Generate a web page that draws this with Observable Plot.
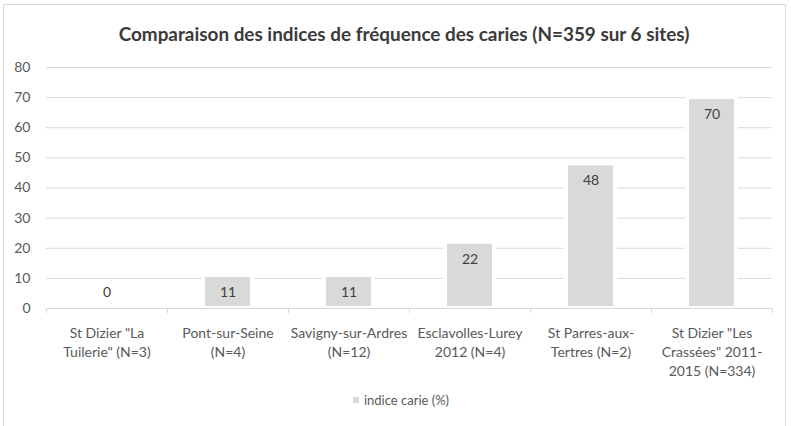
<!DOCTYPE html>
<html><head><meta charset="utf-8">
<script src="https://cdn.jsdelivr.net/npm/d3@7"></script>
<script src="https://cdn.jsdelivr.net/npm/@observablehq/plot@0.6"></script>
<style>
body{margin:0;background:#fff;font-family:Lato,"Open Sans",sans-serif;}
#wrap{position:relative;width:791px;height:426px;overflow:hidden;}
#frame{position:absolute;left:3px;top:4px;width:783px;height:440px;border:1px solid #d9d9d9;box-sizing:border-box;}
#title{position:absolute;left:0;top:22px;width:808px;text-align:center;font-weight:bold;font-size:18.9px;color:#3a3a3a;}
#legend{position:absolute;left:0;top:392px;width:802px;display:flex;justify-content:center;align-items:center;font-size:13px;color:#595959;}
#legend span.sw{display:inline-block;width:6px;height:6px;background:#d9d9d9;margin-right:5px;}
#chart{position:absolute;left:0;top:0;}
</style></head>
<body>
<div id="wrap">
<div id="frame"></div>
<div id="chart"></div>
<div id="title">Comparaison des indices de fréquence des caries (N=359 sur 6 sites)</div>
<div id="legend"><span class="sw"></span>indice carie (%)</div>
</div>
<script>
const categories = ['St Dizier "La Tuilerie" (N=3)', 'Pont-sur-Seine (N=4)', 'Savigny-sur-Ardres (N=12)', 'Esclavolles-Lurey 2012 (N=4)', 'St Parres-aux-Tertres (N=2)', 'St Dizier "Les Crassées" 2011-2015 (N=334)'];
const values = [0, 11, 11, 22, 48, 70];
const tickLabels = ['St Dizier "La\nTuilerie" (N=3)', 'Pont-sur-Seine\n(N=4)', 'Savigny-sur-Ardres\n(N=12)', 'Esclavolles-Lurey\n2012 (N=4)', 'St Parres-aux-\nTertres (N=2)', 'St Dizier "Les\nCrassées" 2011-\n2015 (N=334)'];
const yTicks = [0, 10, 20, 30, 40, 50, 60, 70, 80];

const data = categories.map((c, i) => ({cat: c, i, v: values[i], label: tickLabels[i]}));

const chart = Plot.plot({
  width: 791, height: 426,
  marginLeft: 46, marginRight: 19, marginTop: 67, marginBottom: 118,
  style: {fontFamily: 'Lato, "Open Sans", sans-serif', background: "transparent"},
  x: {domain: [0, categories.length], axis: null},
  y: {domain: [0, 80], axis: null},
  marks: [
    Plot.gridY(yTicks, {stroke: "#d9d9d9", strokeOpacity: 1, strokeWidth: 1}),
    Plot.rectY(data, {x1: d => d.i, x2: d => d.i + 1, y: "v", fill: "#d9d9d9", stroke: "white", strokeWidth: 4, insetLeft: 36, insetRight: 36}),
    Plot.ruleY([0], {stroke: "#d9d9d9", strokeWidth: 1}),
    Plot.axisX({ticks: d3.range(0, categories.length + 1), tickFormat: () => "", tickSize: 5, stroke: "#d9d9d9", strokeOpacity: 1, label: null}),
    Plot.axisY({ticks: yTicks, tickSize: 0, tickPadding: 16, fontSize: 14, fill: "#595959", label: null}),
    Plot.text(data.filter(d => d.v > 0), {x: d => d.i + 0.5, y: "v", text: d => String(d.v), dy: 17, fontSize: 14, fill: "#404040"}),
    Plot.text(data.filter(d => d.v === 0), {x: d => d.i + 0.5, y: "v", text: d => String(d.v), dy: -16, fontSize: 14, fill: "#404040"}),
    Plot.text(data, {x: d => d.i + 0.5, y: 0, text: "label", lineAnchor: "top", dy: 16, lineHeight: 1.36, fontSize: 14, fill: "#595959"})
  ]
});
document.getElementById("chart").appendChild(chart);
</script>
</body></html>
